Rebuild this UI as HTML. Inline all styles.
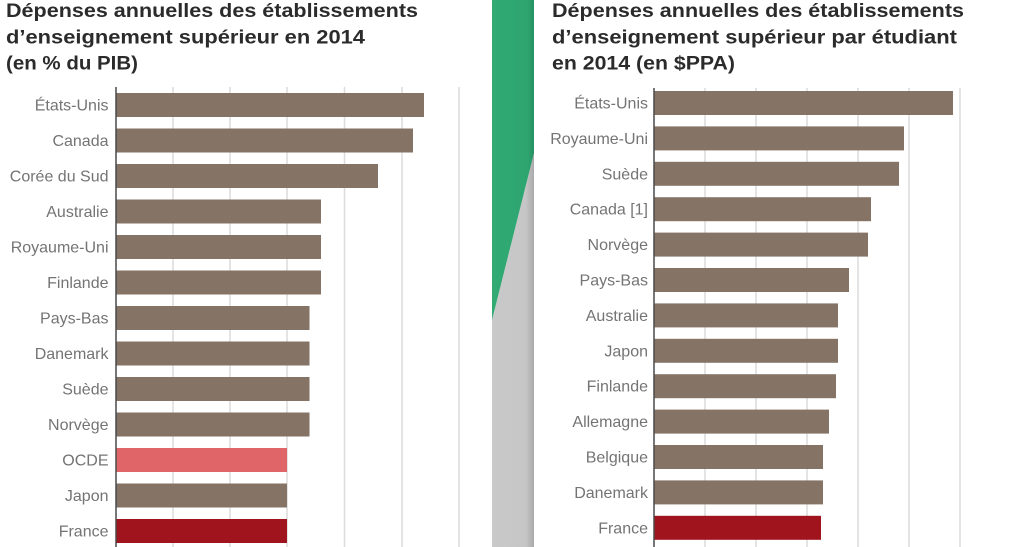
<!DOCTYPE html>
<html>
<head>
<meta charset="utf-8">
<style>
  html,body{margin:0;padding:0;background:#fff;}
  svg{display:block;}
  .t{font-family:"Liberation Sans",Arial,sans-serif;font-weight:bold;font-size:19px;fill:#2b2b2b;}
  .l{font-family:"Liberation Sans",Arial,sans-serif;font-size:16px;fill:#747474;text-anchor:end;}
  .g{stroke:#dcdcdc;stroke-width:1.5;}
  .ax{stroke:#4a4a4a;stroke-width:1.5;}
</style>
</head>
<body>
<svg width="1024" height="547" viewBox="0 0 1024 547" xmlns="http://www.w3.org/2000/svg">
  <defs>
    <linearGradient id="gr" x1="0" x2="1" y1="0" y2="0">
      <stop offset="0" stop-color="#c9c9c9"/>
      <stop offset="0.8" stop-color="#c6c6c6"/>
      <stop offset="1" stop-color="#aaaaaa"/>
    </linearGradient>
    <linearGradient id="gn" x1="0" x2="1" y1="0" y2="0">
      <stop offset="0" stop-color="#31aa74"/>
      <stop offset="0.85" stop-color="#2ea570"/>
      <stop offset="1" stop-color="#268f60"/>
    </linearGradient>
  </defs>
  <rect width="1024" height="547" fill="#fff"/>

  <!-- Divider -->
  <polygon points="492,320 534,153 534,547 492,547" fill="url(#gr)"/>
  <polygon points="492,0 534,0 534,153 492,320" fill="url(#gn)"/>

  <!-- LEFT CHART -->
  <text class="t" x="6" y="17" textLength="412" lengthAdjust="spacingAndGlyphs">Dépenses annuelles des établissements</text>
  <text class="t" x="6" y="43.5" textLength="359" lengthAdjust="spacingAndGlyphs">d’enseignement supérieur en 2014</text>
  <text class="t" x="6" y="69.5" textLength="132" lengthAdjust="spacingAndGlyphs">(en % du PIB)</text>

  <g class="g">
    <line x1="173" y1="87" x2="173" y2="547"/>
    <line x1="230" y1="87" x2="230" y2="547"/>
    <line x1="287" y1="87" x2="287" y2="547"/>
    <line x1="344.5" y1="87" x2="344.5" y2="547"/>
    <line x1="402" y1="87" x2="402" y2="547"/>
    <line x1="459" y1="87" x2="459" y2="547"/>
  </g>

  <g fill="#857466">
    <rect x="116" y="93" width="308" height="24"/>
    <rect x="116" y="128.5" width="297" height="24"/>
    <rect x="116" y="164" width="262" height="24"/>
    <rect x="116" y="199.5" width="205" height="24"/>
    <rect x="116" y="235" width="205" height="24"/>
    <rect x="116" y="270.5" width="205" height="24"/>
    <rect x="116" y="306" width="193.5" height="24"/>
    <rect x="116" y="341.5" width="193.5" height="24"/>
    <rect x="116" y="377" width="193.5" height="24"/>
    <rect x="116" y="412.5" width="193.5" height="24"/>
    <rect x="116" y="483.5" width="171" height="24"/>
  </g>
  <rect x="116" y="448" width="171" height="24" fill="#e06568"/>
  <rect x="116" y="519" width="171" height="24" fill="#a0141d"/>
  <line class="ax" x1="116" y1="87" x2="116" y2="547"/>

  <g class="l">
    <text x="108.5" y="110.5">États-Unis</text>
    <text x="108.5" y="146">Canada</text>
    <text x="108.5" y="181.5">Corée du Sud</text>
    <text x="108.5" y="217">Australie</text>
    <text x="108.5" y="252.5">Royaume-Uni</text>
    <text x="108.5" y="288">Finlande</text>
    <text x="108.5" y="323.5">Pays-Bas</text>
    <text x="108.5" y="359">Danemark</text>
    <text x="108.5" y="394.5">Suède</text>
    <text x="108.5" y="430">Norvège</text>
    <text x="108.5" y="465.5">OCDE</text>
    <text x="108.5" y="501">Japon</text>
    <text x="108.5" y="536.5">France</text>
  </g>

  <!-- RIGHT CHART -->
  <text class="t" x="552" y="17" textLength="412" lengthAdjust="spacingAndGlyphs">Dépenses annuelles des établissements</text>
  <text class="t" x="552" y="43.5" textLength="405" lengthAdjust="spacingAndGlyphs">d’enseignement supérieur par étudiant</text>
  <text class="t" x="552" y="69.5" textLength="183" lengthAdjust="spacingAndGlyphs">en 2014 (en $PPA)</text>

  <g class="g">
    <line x1="705" y1="88" x2="705" y2="547"/>
    <line x1="756" y1="88" x2="756" y2="547"/>
    <line x1="807" y1="88" x2="807" y2="547"/>
    <line x1="858" y1="88" x2="858" y2="547"/>
    <line x1="909" y1="88" x2="909" y2="547"/>
    <line x1="960" y1="88" x2="960" y2="547"/>
  </g>

  <g fill="#857466">
    <rect x="654" y="91" width="299" height="24"/>
    <rect x="654" y="126.4" width="250" height="24"/>
    <rect x="654" y="161.8" width="245" height="24"/>
    <rect x="654" y="197.2" width="217" height="24"/>
    <rect x="654" y="232.6" width="214" height="24"/>
    <rect x="654" y="268" width="195" height="24"/>
    <rect x="654" y="303.4" width="184" height="24"/>
    <rect x="654" y="338.8" width="184" height="24"/>
    <rect x="654" y="374.2" width="182" height="24"/>
    <rect x="654" y="409.6" width="175" height="24"/>
    <rect x="654" y="445" width="169" height="24"/>
    <rect x="654" y="480.4" width="169" height="24"/>
  </g>
  <rect x="654" y="515.8" width="167" height="24" fill="#a0141d"/>
  <line class="ax" x1="654" y1="88" x2="654" y2="547"/>

  <g class="l">
    <text x="648" y="108.5">États-Unis</text>
    <text x="648" y="143.9">Royaume-Uni</text>
    <text x="648" y="179.3">Suède</text>
    <text x="648" y="214.7">Canada [1]</text>
    <text x="648" y="250.1">Norvège</text>
    <text x="648" y="285.5">Pays-Bas</text>
    <text x="648" y="320.9">Australie</text>
    <text x="648" y="356.3">Japon</text>
    <text x="648" y="391.7">Finlande</text>
    <text x="648" y="427.1">Allemagne</text>
    <text x="648" y="462.5">Belgique</text>
    <text x="648" y="497.9">Danemark</text>
    <text x="648" y="533.3">France</text>
  </g>
</svg>
</body>
</html>
